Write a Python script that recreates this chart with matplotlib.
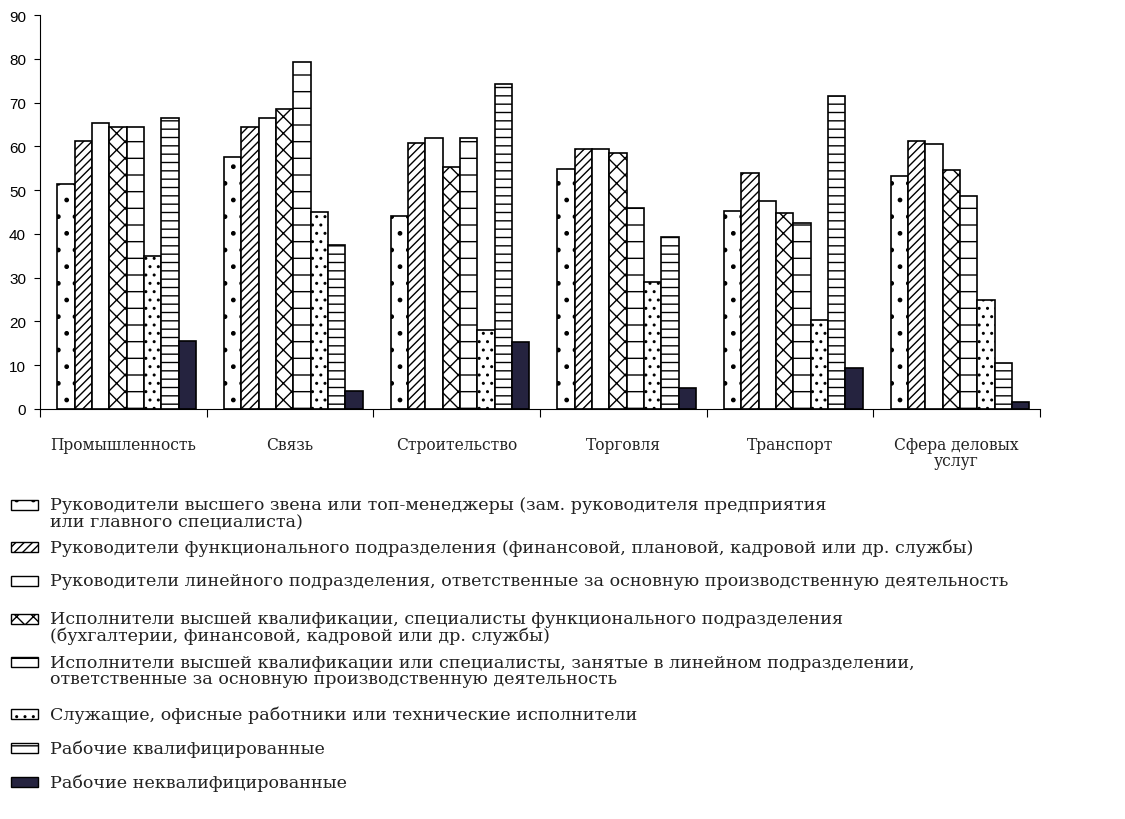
import numpy as np
import matplotlib.pyplot as plt
from matplotlib.patches import Rectangle

plt.rcParams['hatch.linewidth'] = 1.0

sectors = ['Промышленность', 'Связь', 'Строительство', 'Торговля',
           'Транспорт', 'Сфера деловых\nуслуг']

groups = [
    'Руководители высшего звена или топ-менеджеры (зам. руководителя предприятия\nили главного специалиста)',
    'Руководители функционального подразделения (финансовой, плановой, кадровой или др. службы)',
    'Руководители линейного подразделения, ответственные за основную производственную деятельность',
    'Исполнители высшей квалификации, специалисты функционального подразделения\n(бухгалтерии, финансовой, кадровой или др. службы)',
    'Исполнители высшей квалификации или специалисты, занятые в линейном подразделении,\nответственные за основную производственную деятельность',
    'Служащие, офисные работники или технические исполнители',
    'Рабочие квалифицированные',
    'Рабочие неквалифицированные',
]

top_managers  = [51.5, 57.5, 44.2, 54.8, 45.3, 53.3]
func_heads    = [61.2, 64.5, 60.7, 59.3, 54.0, 61.2]
line_heads    = [65.3, 66.5, 62.0, 59.4, 47.4, 60.6]
func_experts  = [64.5, 68.5, 55.3, 58.5, 44.7, 54.6]
line_experts  = [64.5, 79.3, 61.8, 46.0, 42.6, 48.6]
clerks        = [35.0, 45.0, 18.0, 29.0, 20.3, 25.0]
skilled       = [66.5, 37.5, 74.3, 39.3, 71.5, 10.5]
unskilled     = [15.5, 4.2, 15.3, 4.8, 9.4, 1.6]

series = [top_managers, func_heads, line_heads, func_experts,
          line_experts, clerks, skilled, unskilled]
hatches = ['.', '////', '', 'xx', '-', '..', '--', '']
fills = ['white'] * 7 + ['#25233f']

fig = plt.figure(figsize=(11.25, 8.2), dpi=100)
ax = fig.add_axes([40 / 1125, 1 - 410 / 820, 1000 / 1125, 394 / 820])

x = np.arange(len(sectors))
w = 0.104
for i, vals in enumerate(series):
    ax.bar(x - 3.5 * w + i * w + 0.02, vals, width=w, color=fills[i],
           edgecolor='black', linewidth=1.2, hatch=hatches[i])

ax.set_xlim(-0.5, len(sectors) - 0.5)
ax.set_ylim(0, 90)
ax.set_yticks(range(0, 91, 10))
ax.tick_params(axis='y', direction='out', length=4, labelsize=11, pad=6)
for lab in ax.get_yticklabels():
    lab.set_family('Liberation Sans')

ax.set_xticks(np.arange(-0.5, len(sectors), 1.0))
ax.set_xticklabels([])
ax.tick_params(axis='x', direction='out', length=6)
for xi, name in zip(x, sectors):
    ax.text(xi, -6.2, name, ha='center', va='top', family='DejaVu Serif',
            fontsize=11.2, linespacing=0.95, color='#222222')

ax.spines['top'].set_visible(False)
ax.spines['right'].set_visible(False)

# legend below the axes, drawn by hand to keep the row spacing
rows = [506, 548, 582, 620, 663, 715, 749, 783]
for i, (label, ypx) in enumerate(zip(groups, rows)):
    yf = 1 - ypx / 820
    fig.patches.append(Rectangle((11 / 1125, yf - 5 / 820), 27 / 1125, 10 / 820,
                                 transform=fig.transFigure, facecolor=fills[i],
                                 edgecolor='black', linewidth=1.0,
                                 hatch=hatches[i], figure=fig))
    fig.text(50 / 1125, yf, label.split('\n')[0], ha='left', va='center',
             family='DejaVu Serif', fontsize=12.6, color='#222222')
    if '\n' in label:
        fig.text(50 / 1125, yf - 16.5 / 820, label.split('\n')[1], ha='left',
                 va='center', family='DejaVu Serif', fontsize=12.6,
                 color='#222222')

fig.savefig('out.png', dpi=100)
